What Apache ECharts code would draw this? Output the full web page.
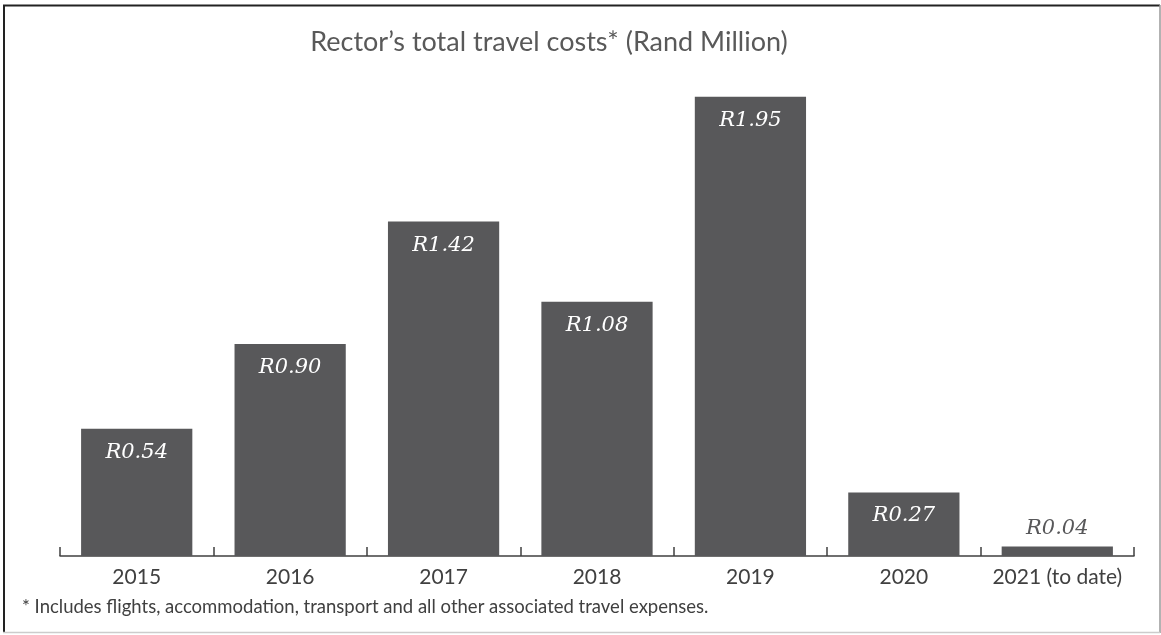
<!DOCTYPE html>
<html>
<head>
<meta charset="utf-8">
<script src="https://cdn.jsdelivr.net/npm/echarts@6/dist/echarts.min.js"></script>
<style>
html,body{margin:0;padding:0;background:#fff;}
#chart{width:1161px;height:635px;}
</style>
</head>
<body>
<div id="chart"></div>
<script>
const categories = ['2015','2016','2017','2018','2019','2020','2021 (to date)'];
const values = [0.54, 0.90, 1.42, 1.08, 1.95, 0.27, 0.04];
const valueLabels = ['R0.54','R0.90','R1.42','R1.08','R1.95','R0.27','R0.04'];
const titleText = 'Rector\u2019s total travel costs* (Rand Million)';
const footnote = '* Includes flights, accommodation, transport and all other associated travel expenses.';

const chart = echarts.init(document.getElementById('chart'));
const barColor = '#58585A';
const labelFont = '"DejaVu Serif", "Liberation Serif", serif';
const sansFont = 'Lato, "Open Sans", sans-serif';

const data = values.map((v, i) => {
  const small = v < 0.1;
  return {
    value: v,
    label: {
      show: true,
      position: small ? 'top' : 'insideTop',
      distance: small ? 8 : 13,
      color: small ? '#58585A' : '#ffffff',
      formatter: () => valueLabels[i]
    }
  };
});

chart.setOption({
  animation: false,
  title: {
    text: titleText,
    left: 544,
    textAlign: 'center',
    top: 24,
    textStyle: { fontFamily: sansFont, fontSize: 27, fontWeight: 'normal', color: '#595959' }
  },
  grid: { left: 60, right: 27, top: 85, bottom: 79 },
  xAxis: {
    type: 'category',
    data: categories,
    axisLine: { show: true, lineStyle: { color: '#404040', width: 1.5 } },
    axisTick: { show: true, inside: true, length: 9, lineStyle: { color: '#404040', width: 1.5 } },
    axisLabel: { interval: 0, color: '#404040', fontSize: 21, fontFamily: sansFont, margin: 11 }
  },
  yAxis: {
    type: 'value', min: 0, max: 2, show: false,
    splitLine: { show: false }
  },
  series: [{
    type: 'bar',
    data: data,
    barCategoryGap: '27.5%',
    itemStyle: { color: barColor },
    label: {
      fontFamily: labelFont,
      fontStyle: 'italic',
      fontSize: 21
    }
  }],
  graphic: [
    { type: 'text', left: 22, top: 598, style: { text: footnote, fill: '#404040', fontSize: 18.5, fontFamily: sansFont, letterSpacing: 0.6 } },
    { type: 'line', shape: { x1: 3, y1: 5.5, x2: 1160, y2: 5.5 }, style: { stroke: '#222', lineWidth: 2 } },
    { type: 'line', shape: { x1: 4, y1: 5, x2: 4, y2: 633 }, style: { stroke: '#222', lineWidth: 2 } },
    { type: 'line', shape: { x1: 1160, y1: 5, x2: 1160, y2: 633 }, style: { stroke: '#999', lineWidth: 1.5 } },
    { type: 'line', shape: { x1: 3, y1: 632.5, x2: 1160, y2: 632.5 }, style: { stroke: '#ccc', lineWidth: 1.5 } }
  ]
});
</script>
</body>
</html>
